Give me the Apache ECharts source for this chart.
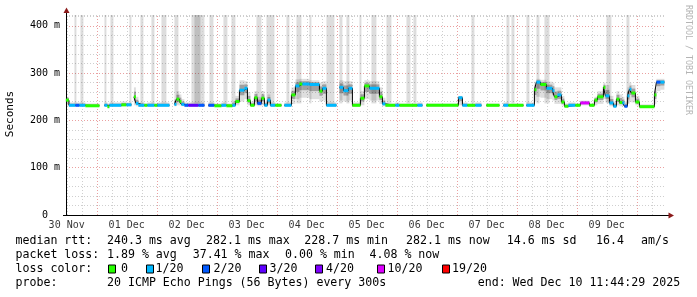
<!DOCTYPE html>
<html><head><meta charset="utf-8">
<script src="https://cdn.jsdelivr.net/npm/echarts@6/dist/echarts.min.js"></script>
<style>html,body{margin:0;padding:0;background:#fff}#c{width:697px;height:297px}</style>
</head><body><div id="c"></div>
<script>
// time in hours since 30 Nov 00:00 ; values in ms
const xMin = 11.733, xMax = 251.733;
const segEnd = 251.1;
const segStart = [
 11.7,12.9,15.5,17.1,19.5,25.1,27.1,28.3,29.1,33.9,
 35.9,37.9,38.9,39.7,40.7,43.1,44.3,47.1,48.3,53.1,
 55.1,55.9,57.1,57.9,59.1,60.7,64.7,67.1,68.7,71.1,
 73.9,75.9,78.3,79.5,81.1,83.1,84.3,85.5,87.1,88.3,
 89.9,91.1,92.3,93.5,95.5,97.9,99.1,101.9,103.5,105.1,
 106.3,109.1,113.1,114.3,115.9,119.9,121.1,122.7,124.7,126.3,
 129.5,131.1,133.1,137.1,138.3,139.5,143.5,145.1,152.3,154.3,
 155.9,168.7,170.3,172.3,175.5,177.9,179.9,185.1,186.7,188.7,
 194.7,195.9,199.1,199.9,201.5,203.9,206.3,207.1,208.3,209.9,
 211.1,212.7,215.5,217.5,221.1,223.1,224.3,226.7,227.5,229.1,
 230.7,231.9,233.1,234.3,235.1,236.3,237.1,237.9,239.5,241.1,
 247.1,247.9,249.5];
const median = [
 243,232,232,232,231,null,232,229,232,233,
 233,null,250,236,232,232,232,232,232,null,
 234,245,240,234,232,232,232,null,232,231,
 232,231,232,240,264,268,242,232,248,236,
 247,232,243,232,232,null,232,254,273,277,
 277,276,262,268,232,null,270,263,268,232,
 247,273,268,250,235,232,232,232,232,null,
 232,248,232,232,232,null,232,null,232,232,
 null,232,265,281,276,268,263,250,254,239,
 230,232,232,237,232,243,250,270,252,237,
 230,245,238,237,230,252,266,258,239,229,
 254,281,281];
const lossIdx = [
 0,1,2,1,0,0,1,0,1,0,
 1,0,0,1,1,0,1,0,1,0,
 1,0,0,1,2,3,2,0,2,0,
 1,0,1,0,1,1,0,0,0,2,
 0,1,1,1,0,0,1,0,1,0,
 1,1,0,1,1,0,1,1,1,0,
 0,0,1,0,1,0,1,0,1,0,
 0,1,1,0,1,0,0,0,1,0,
 0,1,0,1,0,1,1,0,1,0,
 0,1,0,5,0,0,0,0,1,1,
 1,0,0,1,2,1,1,0,0,0,
 0,2,1];
const smokeLo = [
 232,229,229,229,229,null,229,227,229,230,
 230,null,232,230,229,229,229,229,229,null,
 230,232,232,230,229,229,229,null,229,229,
 229,229,229,232,240,245,232,229,232,230,
 232,229,232,229,229,null,229,235,245,248,
 248,245,240,242,229,null,242,240,242,229,
 232,245,242,235,230,229,229,229,229,null,
 229,232,229,229,229,null,229,null,229,229,
 null,229,240,250,248,245,242,235,235,232,
 228,229,229,232,229,232,235,245,238,230,
 228,232,230,230,228,235,240,238,232,227,
 235,262,265];
const smokeHi = [
 250,238,238,238,236,null,238,236,238,240,
 238,null,270,250,238,236,238,236,238,null,
 245,262,255,245,238,238,238,null,238,236,
 238,236,240,252,285,283,260,240,262,250,
 262,240,255,238,236,null,238,270,287,288,
 288,285,280,283,238,null,285,283,283,238,
 262,285,283,270,248,236,238,236,238,null,
 236,252,238,236,238,null,236,null,238,236,
 null,238,282,288,286,282,280,270,270,252,
 236,238,236,242,236,250,262,280,275,252,
 240,262,255,250,240,270,280,275,252,234,
 268,288,288];
const stripeStart = [15.1,17.5,27.1,29.5,37.1,41.5,45.9,49.9,55.1,61.9,63.1,69.1,74.7,77.9,87.9,91.9,99.9,103.9,109.1,115.9,121.1,123.9,129.1,133.9,139.9,147.9,150.7,173.9,187.9,189.9,195.9,199.9,203.1,227.9,235.9];
const stripeEnd   = [15.9,18.7,27.9,30.7,37.9,42.7,47.1,51.9,56.7,67.1,65.5,70.7,76.3,79.5,89.9,95.1,101.1,105.9,109.9,119.1,122.3,125.1,129.9,135.9,141.9,149.5,151.9,175.1,189.1,191.1,197.1,201.1,205.1,229.9,237.1];
const stripeBottom = 236;
const dayLabels = ['30 Nov','01 Dec','02 Dec','03 Dec','04 Dec','05 Dec','06 Dec','07 Dec','08 Dec','09 Dec'];
const dayLabelHours = [12,36,60,84,108,132,156,180,204,228];
const lossColors = ['#26ff00','#00b8ff','#0059ff','#5e00ff','#7e00ff','#dd00ff','#ff0000'];
const lossNames = ['0','1/20','2/20','3/20','4/20','10/20','19/20'];
const rttTexts = ['median rtt:','240.3 ms avg','282.1 ms max','228.7 ms min','282.1 ms now','14.6 ms sd','16.4','am/s'];
const lossTexts = ['packet loss:','1.89 % avg','37.41 % max','0.00 % min','4.08 % now'];
const probeTexts = ['probe:','20 ICMP Echo Pings (56 Bytes) every 300s','end: Wed Dec 10 11:44:29 2025'];

const MONO = '"DejaVu Sans Mono", monospace';
const n = segStart.length;
const ends = segStart.slice(1).concat([segEnd]);
const lineData = [], lossData = [], smokeData = [];
for (let i = 0; i < n; i++) {
  if (median[i] == null) { lineData.push([segStart[i], null]); continue; }
  lineData.push([segStart[i], median[i]]);
  lineData.push([ends[i], median[i]]);
  lossData.push([segStart[i], ends[i], median[i], lossIdx[i]]);
  smokeData.push([segStart[i], ends[i], smokeLo[i], smokeHi[i], median[i]]);
}
const stripeData = stripeStart.map((s, i) => [s, stripeEnd[i]]);
const vGrid = [];
for (let h = 12; h <= xMax; h += 6) vGrid.push([h]);
const yMax = 423;

const chart = echarts.init(document.getElementById('c'), null, {renderer: 'canvas'});
const option = {
  animation: false,
  backgroundColor: '#ffffff',
  grid: {left: 66, top: 15, width: 600, height: 200},
  xAxis: {type: 'value', min: xMin, max: xMax,
    axisLine: {show: true, onZero: false, lineStyle: {color: '#000', width: 1}},
    axisTick: {show: false}, axisLabel: {show: false}, splitLine: {show: false}},
  yAxis: {type: 'value', min: 0, max: yMax, interval: 20,
    axisLine: {show: true, lineStyle: {color: '#000', width: 1}},
    axisTick: {show: false},
    axisLabel: {fontFamily: MONO, fontSize: 10, color: '#000', margin: 6,
      formatter: v => (v % 100 === 0 ? (v === 0 ? '0  ' : v + ' m') : '')},
    splitLine: {show: true, lineStyle: {color: ['#eaa0a0','#cfcfcf','#cfcfcf','#cfcfcf','#cfcfcf'], type: [1, 2], width: 1}}},
  series: [
    {type: 'custom', name: 'stripes', z: 1, data: stripeData, encode: {x: [0, 1]},
      renderItem: (p, api) => {
        const a = api.coord([api.value(0), yMax]);
        const b = api.coord([api.value(1), stripeBottom]);
        return {type: 'rect', shape: {x: a[0], y: a[1], width: b[0] - a[0], height: b[1] - a[1]},
          style: {fill: 'rgba(0,0,0,0.135)'}};
      }},
    {type: 'custom', name: 'vgrid', z: 2, data: vGrid, encode: {x: 0},
      renderItem: (p, api) => {
        const h = api.value(0);
        const a = api.coord([h, 0]), b = api.coord([h, yMax]);
        const x = Math.round(a[0]) + 0.5;
        return {type: 'line', shape: {x1: x, y1: a[1], x2: x, y2: b[1]},
          style: {stroke: h % 24 === 0 ? '#eaa0a0' : '#cfcfcf', lineWidth: 1, lineDash: [1, 2]}};
      }},
    {type: 'custom', name: 'smoke', z: 3, data: smokeData, encode: {x: [0, 1], y: [2, 3]},
      renderItem: (p, api) => {
        const s = api.value(0), e = api.value(1), lo = api.value(2), hi = api.value(3), m = api.value(4);
        const a = api.coord([s, hi]), b = api.coord([e, lo]);
        const ilo = m - (m - lo) * 0.45, ihi = m + (hi - m) * 0.55;
        const c = api.coord([s, ihi]), d = api.coord([e, ilo]);
        return {type: 'group', children: [
          {type: 'rect', shape: {x: a[0], y: a[1], width: b[0] - a[0], height: b[1] - a[1]}, style: {fill: 'rgba(0,0,0,0.13)'}},
          {type: 'rect', shape: {x: c[0], y: c[1], width: d[0] - c[0], height: d[1] - c[1]}, style: {fill: 'rgba(0,0,0,0.28)'}}
        ]};
      }},
    {type: 'line', name: 'median', z: 4, data: lineData, showSymbol: false, symbol: 'none',
      connectNulls: false, lineStyle: {color: '#000', width: 1}},
    {type: 'custom', name: 'loss', z: 5, data: lossData, encode: {x: [0, 1], y: 2},
      renderItem: (p, api) => {
        const a = api.coord([api.value(0), api.value(2)]), b = api.coord([api.value(1), api.value(2)]);
        return {type: 'rect', shape: {x: a[0], y: a[1] - 1.5, width: b[0] - a[0], height: 3},
          style: {fill: lossColors[api.value(3)]}};
      }},
    {type: 'scatter', name: 'days', z: 6, symbolSize: 1, itemStyle: {color: 'rgba(0,0,0,0)'},
      data: dayLabelHours.map(h => [h, 0]), clip: false, silent: true,
      label: {show: true, position: 'bottom', distance: 5, fontFamily: MONO, fontSize: 10, color: '#000',
        formatter: p => dayLabels[p.dataIndex]}}
  ]
};
chart.setOption(option);

// legend / annotation graphics
const g = [];
const T = (x, y, text, extra) => g.push(Object.assign({type: 'text', x: x, y: y,
  style: {text: text, font: '11.6px ' + MONO, fill: '#000', align: 'left', verticalAlign: 'middle'}}, extra || {}));
const rttX = [15.5, 107, 206, 304.3, 406, 506.7, 596, 641];
rttTexts.forEach((t, i) => T(rttX[i], 240.7, t));
const lossX = [15.5, 107, 192.7, 285, 369.5];
lossTexts.forEach((t, i) => T(lossX[i], 255, t));
T(15.5, 269, 'loss color:');
const boxX = [108.5, 146.5, 202.5, 259.5, 315.5, 377.5, 442.5];
const boxLabelX = [121, 155.5, 213.5, 269.5, 326, 387.5, 452];
lossNames.forEach((t, i) => {
  g.push({type: 'rect', shape: {x: boxX[i], y: 265, width: 7, height: 8},
    style: {fill: lossColors[i], stroke: '#000', lineWidth: 1}});
  T(boxLabelX[i], 269, t);
});
const probeX = [15.5, 107, 477.7];
probeTexts.forEach((t, i) => T(probeX[i], 283.3, t));
g.push({type: 'text', x: 10, y: 114, rotation: Math.PI / 2,
  style: {text: 'Seconds', font: '11px ' + MONO, fill: '#000', align: 'center', verticalAlign: 'middle'}});
g.push({type: 'text', x: 688, y: 5, rotation: -Math.PI / 2,
  style: {text: 'RRDTOOL / TOBI OETIKER', font: '8.3px ' + MONO, fill: '#b4b4b4', align: 'left', verticalAlign: 'middle'}});
// axis arrows
const o = chart.convertToPixel({gridIndex: 0}, [xMin, 0]);
const t = chart.convertToPixel({gridIndex: 0}, [xMin, yMax]);
const r = chart.convertToPixel({gridIndex: 0}, [xMax, 0]);
const ax = Math.round(o[0]) + 0.5, ay = Math.round(o[1]) + 0.5;
g.push({type: 'line', shape: {x1: ax, y1: t[1], x2: ax, y2: 12}, style: {stroke: '#000', lineWidth: 1}});
g.push({type: 'line', shape: {x1: 63, y1: ay, x2: ax, y2: ay}, style: {stroke: '#000', lineWidth: 1}});
g.push({type: 'line', shape: {x1: r[0], y1: ay, x2: 669, y2: ay}, style: {stroke: '#000', lineWidth: 1}});
g.push({type: 'polygon', shape: {points: [[ax - 3, 13], [ax + 3, 13], [ax, 7.5]]}, style: {fill: '#8b1a1a'}});
g.push({type: 'polygon', shape: {points: [[668.5, ay - 3], [668.5, ay + 3], [674, ay]]}, style: {fill: '#8b1a1a'}});
chart.setOption({graphic: g});
</script></body></html>
